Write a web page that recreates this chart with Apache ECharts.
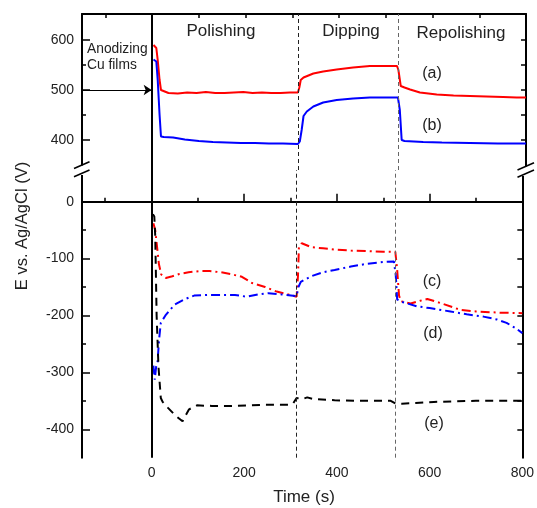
<!DOCTYPE html>
<html>
<head>
<meta charset="utf-8">
<script src="https://cdn.jsdelivr.net/npm/echarts@6/dist/echarts.min.js"></script>
<style>html,body{margin:0;padding:0;background:#fff}#c{width:537px;height:508px}</style>
</head>
<body>
<div id="c"></div>
<script>
// ---- data ----
const tA = [3, 9, 12, 16, 19, 23, 35, 55, 75, 95, 115, 135, 155, 175, 195, 215, 235, 255, 275, 295, 312, 315, 318, 324, 345, 366, 395, 430, 466, 500, 524, 527, 532, 540, 552, 573, 609, 645, 680, 715, 751, 780, 800];
const vA = [590, 584, 560, 520, 500, 496, 494, 493, 495, 494, 496, 494, 494, 495, 496, 494, 495, 494, 494, 495, 495, 505, 520, 525, 533, 537, 541, 545, 548, 548, 548, 540, 508, 505, 501, 495, 491, 489, 488, 487, 486, 485, 485];

const tB = [3, 9, 12, 16, 19, 25, 45, 70, 100, 130, 160, 190, 220, 250, 280, 312, 316, 320, 324, 331, 345, 366, 395, 430, 466, 500, 526, 530, 534, 540, 580, 620, 680, 740, 800];
const vB = [561, 557, 520, 450, 407, 406, 405, 401, 398, 396, 395, 394, 394, 393, 393, 392, 397, 420, 448, 457, 467, 475, 480, 483, 485, 485, 485, 460, 400, 398, 396, 395, 394, 393, 393];

const tC = [4, 8, 12, 16, 21, 31, 45, 60, 80, 103, 125, 150, 170, 195, 217, 245, 270, 295, 313, 316, 318, 324, 345, 370, 395, 430, 466, 500, 526, 530, 534, 538, 559, 580, 595, 623, 666, 700, 751, 800];
const vC = [-38, -50, -80, -110, -128, -134, -131, -127, -124, -122, -122, -124, -127, -132, -143, -150, -158, -163, -167, -130, -80, -73, -80, -82, -84, -86, -87, -88, -88, -120, -165, -175, -179, -174, -171, -178, -190, -193, -195, -196];

const tD = [4, 7, 10, 13, 16, 20, 30, 40, 50, 70, 92, 120, 150, 180, 206, 230, 252, 281, 313, 317, 322, 331, 345, 370, 395, 430, 466, 500, 523, 527, 530, 540, 573, 600, 645, 680, 716, 745, 766, 785, 800];
const vD = [-288, -313, -290, -282, -245, -213, -200, -190, -181, -172, -165, -164, -164, -164, -167, -163, -161, -163, -166, -150, -141, -137, -131, -124, -120, -114, -109, -106, -105, -130, -172, -176, -184, -187, -193, -198, -202, -207, -213, -222, -231];

const tE = [3, 6, 8, 11, 15, 20, 24, 35, 53, 67, 74, 81, 98, 130, 170, 210, 245, 280, 300, 306, 313, 325, 336, 350, 395, 440, 480, 516, 527, 540, 570, 609, 650, 700, 750, 800];
const vE = [-22, -26, -60, -200, -290, -345, -352, -362, -377, -386, -375, -365, -358, -359, -359, -358, -357, -357, -357, -354, -345, -347, -344, -347, -349, -350, -350, -350, -355, -355, -354, -352, -351, -350, -350, -350];

const xTickLabels = [0, 200, 400, 600, 800];
const xMinorTicks = [-100, 100, 300, 500, 700];
const xTopTicks = [-100, 0, 100, 200, 300, 400, 500, 600, 700, 800];
const yUpperLabels = [400, 500, 600];
const yUpperMinor = [450, 550];
const yUpperRight = [400, 450, 500, 550, 600];
const yLowerLabels = [0, -100, -200, -300, -400];
const yLowerMinor = [-50, -150, -250, -350];
const yLowerRight = [0, -50, -100, -150, -200, -250, -300, -350, -400];
const stageBounds = [313, 526];
const stageNames = ['Polishing', 'Dipping', 'Repolishing'];
const curveNames = ['(a)', '(b)', '(c)', '(d)', '(e)'];

const pairs = (t, v) => t.map((x, i) => [x, v[i]]);

const FONT = '"Liberation Sans", Arial, sans-serif';
const TXT = '#222';

const xRange = { min: -150, max: 800 };
const upRange = { min: 340, max: 652 };
const lowRange = { min: -450, max: 55.7 };

function xAx(grid, pos, ticks, len, labels, line) {
  return {
    type: 'value', gridIndex: grid, position: pos, min: xRange.min, max: xRange.max,
    axisLine: { show: line, lineStyle: { color: '#000', width: 2 } },
    axisTick: { show: true, inside: true, length: len, customValues: ticks, lineStyle: { color: '#000', width: 1.5 } },
    axisLabel: labels ? { show: true, customValues: labels, margin: 8, color: TXT, fontSize: 14, fontFamily: FONT } : { show: false },
    splitLine: { show: false }
  };
}
function yAx(grid, pos, range, ticks, len, labels, line) {
  return {
    type: 'value', gridIndex: grid, position: pos, min: range.min, max: range.max,
    axisLine: { show: line, onZero: false, lineStyle: { color: '#000', width: 2 } },
    axisTick: { show: true, inside: true, length: len, customValues: ticks, lineStyle: { color: '#000', width: 1.5 } },
    axisLabel: labels ? { show: true, customValues: labels, margin: 8, color: TXT, fontSize: 14, fontFamily: FONT } : { show: false },
    splitLine: { show: false }
  };
}

function vLines() {
  return {
    silent: true, symbol: 'none', animation: false, label: { show: false },
    data: [
      { xAxis: 0, lineStyle: { color: '#000', width: 2, type: 'solid' } },
      { xAxis: stageBounds[0], lineStyle: { color: '#222', width: 1, type: [4, 3] } },
      { xAxis: stageBounds[1], lineStyle: { color: '#666', width: 1, type: [4, 3] } }
    ]
  };
}

const chart = echarts.init(document.getElementById('c'), null, { renderer: 'canvas' });

const txt = (text, x, y, size, align) => ({
  type: 'text', z: 100, x: x, y: y,
  style: { text: text, x: 0, y: 0, font: size + 'px ' + FONT, fill: TXT, textAlign: align || 'center', textVerticalAlign: 'middle' }
});
const seg = (x1, y1, x2, y2) => ({ type: 'line', z: 100, shape: { x1, y1, x2, y2 }, style: { stroke: '#000', lineWidth: 1.5 } });
const wrect = (x, y, w, h) => ({ type: 'rect', z: 99, shape: { x, y, width: w, height: h }, style: { fill: '#fff' } });

chart.setOption({
  animation: false,
  backgroundColor: '#fff',
  grid: [
    { left: 82, right: 11, top: 14, height: 156 },
    { left: 82, right: 11, top: 170, height: 287.7 }
  ],
  xAxis: [
    xAx(0, 'top', xTopTicks, 4, null, true),
    xAx(1, 'bottom', xTickLabels, 8, xTickLabels, true),
    xAx(1, 'bottom', xMinorTicks, 4, null, false)
  ],
  yAxis: [
    yAx(0, 'left', upRange, yUpperLabels, 8, yUpperLabels, true),
    yAx(0, 'left', upRange, yUpperMinor, 4, null, false),
    yAx(0, 'right', upRange, yUpperRight, 5, null, true),
    yAx(1, 'left', lowRange, yLowerLabels, 8, yLowerLabels, true),
    yAx(1, 'left', lowRange, yLowerMinor, 4, null, false),
    yAx(1, 'right', lowRange, yLowerRight, 5, null, true)
  ],
  series: [
    { name: 'a', type: 'line', xAxisIndex: 0, yAxisIndex: 0, showSymbol: false, data: pairs(tA, vA),
      lineStyle: { color: '#ff0000', width: 2 }, itemStyle: { color: '#ff0000' },
      markLine: Object.assign(vLines(), {}) },
    { name: 'b', type: 'line', xAxisIndex: 0, yAxisIndex: 0, showSymbol: false, data: pairs(tB, vB),
      lineStyle: { color: '#0000ff', width: 2 }, itemStyle: { color: '#0000ff' },
      markLine: { silent: true, animation: false, symbol: ['none', 'arrow'], symbolSize: 8, label: { show: false },
        lineStyle: { color: '#000', width: 1, type: 'solid' },
        data: [[{ coord: [-148, 500] }, { coord: [-1, 500] }]] } },
    { name: 'c', type: 'line', xAxisIndex: 1, yAxisIndex: 3, showSymbol: false, data: pairs(tC, vC),
      lineStyle: { color: '#ff0000', width: 2, type: [9, 4, 2, 4] }, itemStyle: { color: '#ff0000' },
      markLine: vLines() },
    { name: 'd', type: 'line', xAxisIndex: 1, yAxisIndex: 3, showSymbol: false, data: pairs(tD, vD),
      lineStyle: { color: '#0000ff', width: 2, type: [9, 4, 2, 4] }, itemStyle: { color: '#0000ff' } },
    { name: 'e', type: 'line', xAxisIndex: 1, yAxisIndex: 3, showSymbol: false, data: pairs(tE, vE),
      lineStyle: { color: '#000', width: 2, type: [8, 6] }, itemStyle: { color: '#000' } }
  ],
  graphic: [
    txt(stageNames[0], 221, 31, 17),
    txt(stageNames[1], 351, 31, 17),
    txt(stageNames[2], 461, 33, 17),
    txt('Anodizing', 87, 49, 13.8, 'left'),
    txt('Cu films', 87, 65, 13.8, 'left'),
    txt(curveNames[0], 432, 74, 16),
    txt(curveNames[1], 432, 126, 16),
    txt(curveNames[2], 432, 282, 16),
    txt(curveNames[3], 433, 334, 16),
    txt(curveNames[4], 434, 424, 16),
    txt('Time (s)', 304, 497, 17),
    Object.assign(txt('E vs. Ag/AgCl (V)', 22, 226, 16.5), { rotation: Math.PI / 2 }),
    wrect(78, 165.5, 8, 9.5),
    wrect(522, 166.5, 8, 9.5),
    seg(74, 168.5, 89.5, 161.8),
    seg(74, 176.8, 89.5, 170),
    seg(517.5, 170, 534, 162.8),
    seg(517.5, 177.3, 534, 170)
  ]
});
</script>
</body>
</html>
